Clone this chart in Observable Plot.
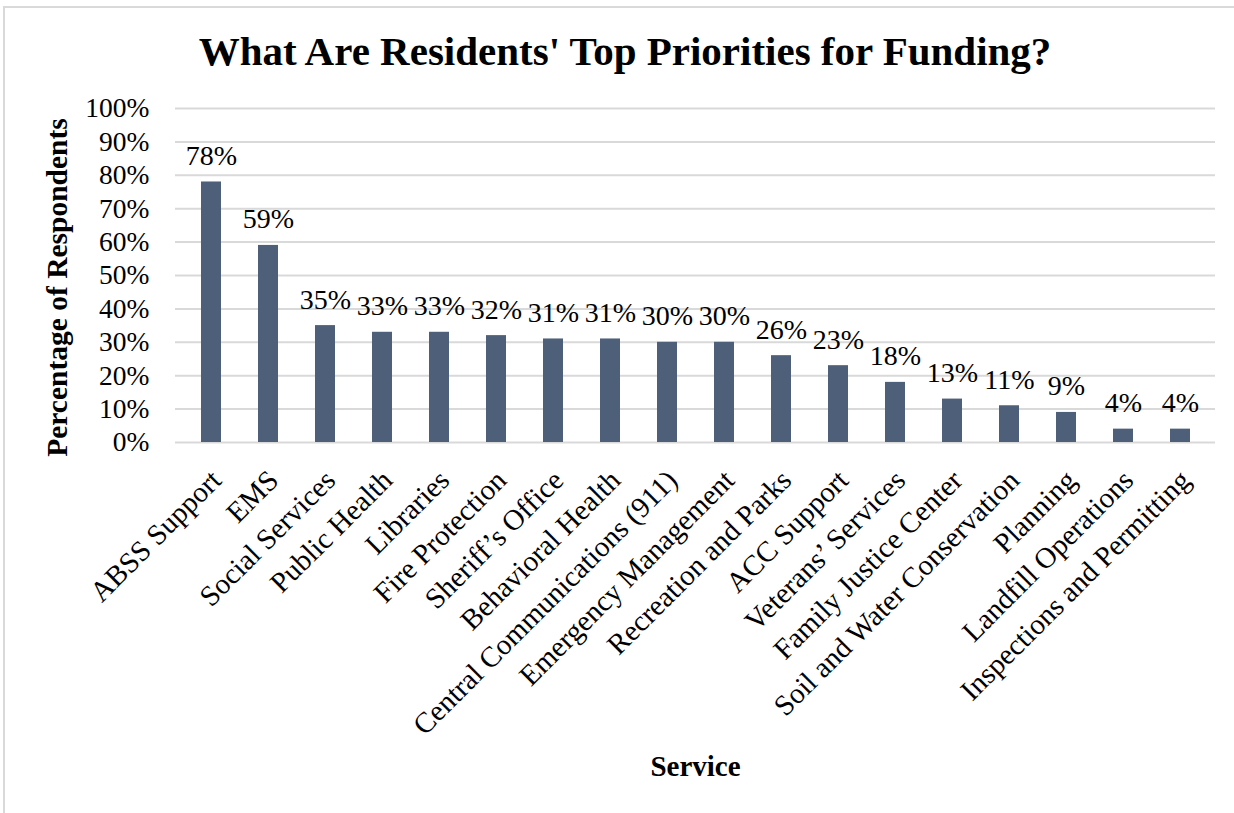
<!DOCTYPE html>
<html>
<head>
<meta charset="utf-8">
<script src="https://cdn.jsdelivr.net/npm/d3@7"></script>
<script src="https://cdn.jsdelivr.net/npm/@observablehq/plot@0.6"></script>
<style>
  html, body { margin: 0; padding: 0; background: #fff; }
  #wrap { position: relative; width: 1234px; height: 813px; overflow: hidden; font-family: "Liberation Serif", "Times New Roman", serif; }
  #frame { position: absolute; left: 3px; top: 6px; width: 1300px; height: 900px; border-left: 2px solid #d9d9d9; border-top: 2px solid #d9d9d9; pointer-events: none; }
  #title { box-sizing: border-box; height: 90px; padding-top: 31px; padding-left: 16px; text-align: center; font-size: 41px; line-height: 40px; font-weight: bold; color: #000; white-space: nowrap; }
  svg { display: block; }
</style>
</head>
<body>
<div id="wrap">
  <div id="frame"></div>
  <div id="title">What Are Residents' Top Priorities for Funding?</div>
  <div id="chart"></div>
</div>
<script>
const services = [
  "ABSS Support", "EMS", "Social Services", "Public Health", "Libraries",
  "Fire Protection", "Sheriff’s Office", "Behavioral Health",
  "Central Communications (911)", "Emergency Management", "Recreation and Parks",
  "ACC Support", "Veterans’ Services", "Family Justice Center",
  "Soil and Water Conservation", "Planning", "Landfill Operations",
  "Inspections and Permitting"
];
const percents = [78, 59, 35, 33, 33, 32, 31, 31, 30, 30, 26, 23, 18, 13, 11, 9, 4, 4];
const yTicks = [0, 10, 20, 30, 40, 50, 60, 70, 80, 90, 100];
const yTitle = "Percentage of Respondents";
const xTitle = "Service";

const data = services.map((s, i) => ({service: s, pct: percents[i]}));
const font = "Liberation Serif, Times New Roman, serif";

const chart = Plot.plot({
  width: 1234,
  height: 723,
  marginTop: 18,
  marginBottom: 371,
  marginLeft: 175,
  marginRight: 19,
  style: {fontFamily: font, color: "#000", background: "#fff", overflow: "visible"},
  x: {domain: services, paddingInner: 0.654, paddingOuter: 0.327, axis: null},
  y: {domain: [0, 100], axis: null},
  marks: [
    Plot.ruleY(yTicks, {stroke: "#d9d9d9", strokeWidth: 2}),
    Plot.axisY({ticks: yTicks, tickSize: 0, tickPadding: 26, fontSize: 27.5, tickFormat: d => d + "%", label: null}),
    Plot.barY(data, {x: "service", y: "pct", fill: "#4e5f79"}),
    Plot.text(data, {x: "service", y: "pct", text: d => d.pct + "%", lineAnchor: "bottom", dy: -17, fontSize: 28, fill: "#000"}),
    Plot.text(data, {x: "service", text: "service", frameAnchor: "bottom", rotate: -45, textAnchor: "end", lineAnchor: "middle", dx: 5, dy: 33, fontSize: 29, fill: "#000"}),
    Plot.text([yTitle], {text: d => d, frameAnchor: "left", rotate: -90, textAnchor: "middle", lineAnchor: "middle", dx: -118, dy: 12, fontSize: 29.5, fontWeight: "bold", fill: "#000"}),
    Plot.text([xTitle], {text: d => d, frameAnchor: "bottom", lineAnchor: "bottom", dy: 333, fontSize: 29, fontWeight: "bold", fill: "#000"})
  ]
});
document.getElementById("chart").appendChild(chart);
</script>
</body>
</html>
